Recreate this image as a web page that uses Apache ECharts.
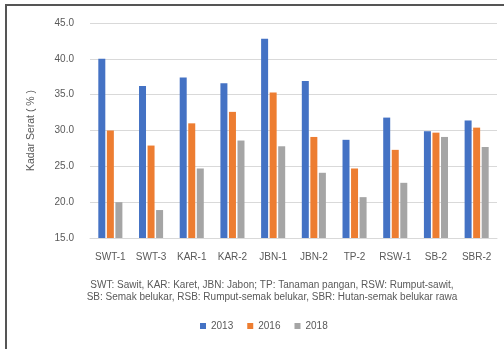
<!DOCTYPE html>
<html><head><meta charset="utf-8">
<script src="https://cdn.jsdelivr.net/npm/echarts@6/dist/echarts.min.js"></script>
<style>html,body{margin:0;padding:0;background:#fff}#c{width:504px;height:349px}</style>
</head><body><div id="c"></div>
<script>
const categories = ['SWT-1','SWT-3','KAR-1','KAR-2','JBN-1','JBN-2','TP-2','RSW-1','SB-2','SBR-2'];
const s2013 = [40.0, 36.2, 37.4, 36.6, 42.8, 36.9, 28.7, 31.8, 29.9, 31.4];
const s2016 = [30.0, 27.9, 31.0, 32.6, 35.3, 29.1, 24.7, 27.3, 29.7, 30.4];
const s2018 = [20.0, 18.9, 24.7, 28.6, 27.8, 24.1, 20.7, 22.7, 29.1, 27.7];
const seriesNames = ['2013','2016','2018'];
const yTicks = {min: 15, max: 45, interval: 5};
const yTitle = 'Kadar Serat ( % )';
const footnote = 'SWT: Sawit, KAR: Karet, JBN: Jabon; TP: Tanaman pangan, RSW: Rumput-sawit,\nSB: Semak belukar, RSB: Rumput-semak belukar, SBR: Hutan-semak belukar rawa';
const colors = ['#4472C4','#ED7D31','#A5A5A5'];
const txt = '#595959';
const ff = 'Liberation Sans, Arial, sans-serif';
const chart = echarts.init(document.getElementById('c'));
const data = [s2013, s2016, s2018];
chart.setOption({
  animation: false,
  color: colors,
  textStyle: {fontFamily: ff},
  grid: {left: 90, right: 7, top: 23, bottom: 111, containLabel: false},
  xAxis: {
    type: 'category', data: categories,
    axisLine: {lineStyle: {color: '#d9d9d9'}},
    axisTick: {show: false},
    axisLabel: {color: txt, fontSize: 10, margin: 14, interval: 0}
  },
  yAxis: {
    type: 'value', min: yTicks.min, max: yTicks.max, interval: yTicks.interval,
    name: yTitle, nameLocation: 'middle', nameGap: 53, nameRotate: 90,
    nameTextStyle: {color: txt, fontSize: 10.5},
    axisLabel: {color: txt, fontSize: 10, margin: 16, formatter: v => v.toFixed(1)},
    axisLine: {show: false}, axisTick: {show: false},
    splitLine: {lineStyle: {color: '#d9d9d9'}}
  },
  legend: {
    bottom: 13, left: 195, itemWidth: 6, itemHeight: 6, itemGap: 14,
    icon: 'rect', textStyle: {color: txt, fontSize: 10}
  },
  series: seriesNames.map((n, i) => ({
    name: n, type: 'bar', data: data[i], barWidth: 7, barGap: '22%'
  })),
  graphic: [
    {type: 'text', x: 272, y: 279, style: {text: footnote, fill: txt, fontSize: 10, align: 'center', lineHeight: 12, fontFamily: ff}},
    {type: 'rect', shape: {x: 5, y: 4, width: 499, height: 2}, style: {fill: '#555'}},
    {type: 'rect', shape: {x: 5, y: 4, width: 2, height: 345}, style: {fill: '#555'}}
  ]
});
</script></body></html>
